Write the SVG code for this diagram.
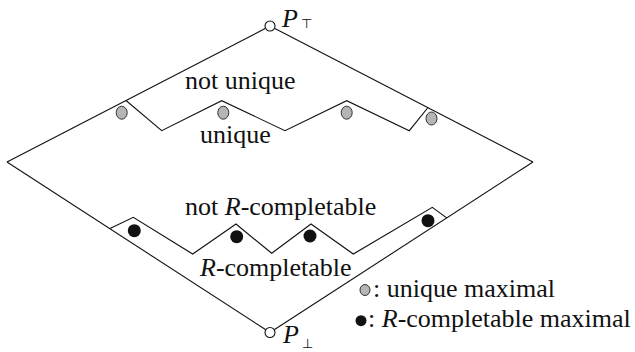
<svg xmlns="http://www.w3.org/2000/svg" width="635" height="352" viewBox="0 0 635 352">
<style>
.ln{fill:none;stroke:#111;stroke-width:1.1;stroke-linejoin:miter}
.end{fill:#fff;stroke:#111;stroke-width:1.1}
.g{fill:#b5b5b5;stroke:#333;stroke-width:1}
.b{fill:#111;stroke:none}
.t{font-family:"Liberation Serif","Times New Roman",serif;font-size:26px;fill:#111}
.i{font-style:italic}
.sub{font-family:"DejaVu Sans",sans-serif;font-size:13px;fill:#111}
</style>
<rect width="635" height="352" fill="#fff"/>
<g id="connectors">
<line class="ln" x1="7" y1="162" x2="265.6" y2="28.3"/>
<line class="ln" x1="274.4" y1="28.3" x2="533" y2="162"/>
<line class="ln" x1="7" y1="162" x2="265.8" y2="329.8"/>
<line class="ln" x1="274.2" y1="329.8" x2="533" y2="162"/>
<polyline id="unique-boundary" class="ln" points="126,100.5 161.7,130.7 221.7,100.7 285,130.7 346.7,100.7 409.3,130.7 428,107.5"/>
<polyline id="completable-boundary" class="ln" points="110,228.6 133.3,217.3 192.7,254 236,224 271.7,253.3 311,224 353.3,254 432.3,207.3 446.7,217.9"/>
</g>
<g id="P-top">
<circle class="end" cx="270" cy="26" r="5"/>
<text class="t i" x="282" y="27">P</text>
<text class="sub" x="301" y="28">⊤</text>
</g>
<g id="P-bottom">
<circle class="end" cx="270" cy="332.5" r="5"/>
<text class="t i" x="283" y="343">P</text>
<text class="sub" x="302" y="348">⊥</text>
</g>
<g id="unique-maximal">
<ellipse class="g" cx="121.7" cy="112.7" rx="5.5" ry="6.5"/>
<ellipse class="g" cx="223.3" cy="112.7" rx="5.5" ry="6.5"/>
<ellipse class="g" cx="346.7" cy="112.7" rx="5.5" ry="6.5"/>
<ellipse class="g" cx="431.5" cy="118.5" rx="5.5" ry="6.5"/>
</g>
<g id="completable-maximal">
<circle class="b" cx="134.3" cy="230.7" r="6.5"/>
<circle class="b" cx="236.7" cy="236.7" r="6.5"/>
<circle class="b" cx="310" cy="236" r="6.5"/>
<circle class="b" cx="428" cy="220.7" r="6.5"/>
</g>
<g id="labels">
<text class="t" x="185" y="89">not unique</text>
<text class="t" x="200" y="143">unique</text>
<text class="t" x="185" y="215">not <tspan class="i">R</tspan>-completable</text>
<text class="t" x="200" y="276"><tspan class="i">R</tspan>-completable</text>
</g>
<g id="legend">
<ellipse class="g" cx="365" cy="290" rx="5" ry="5.5"/>
<text class="t" x="373" y="297">: unique maximal</text>
<circle class="b" cx="361" cy="320.7" r="5.5"/>
<text class="t" x="368" y="327">: <tspan class="i">R</tspan>-completable maximal</text>
</g>
</svg>
